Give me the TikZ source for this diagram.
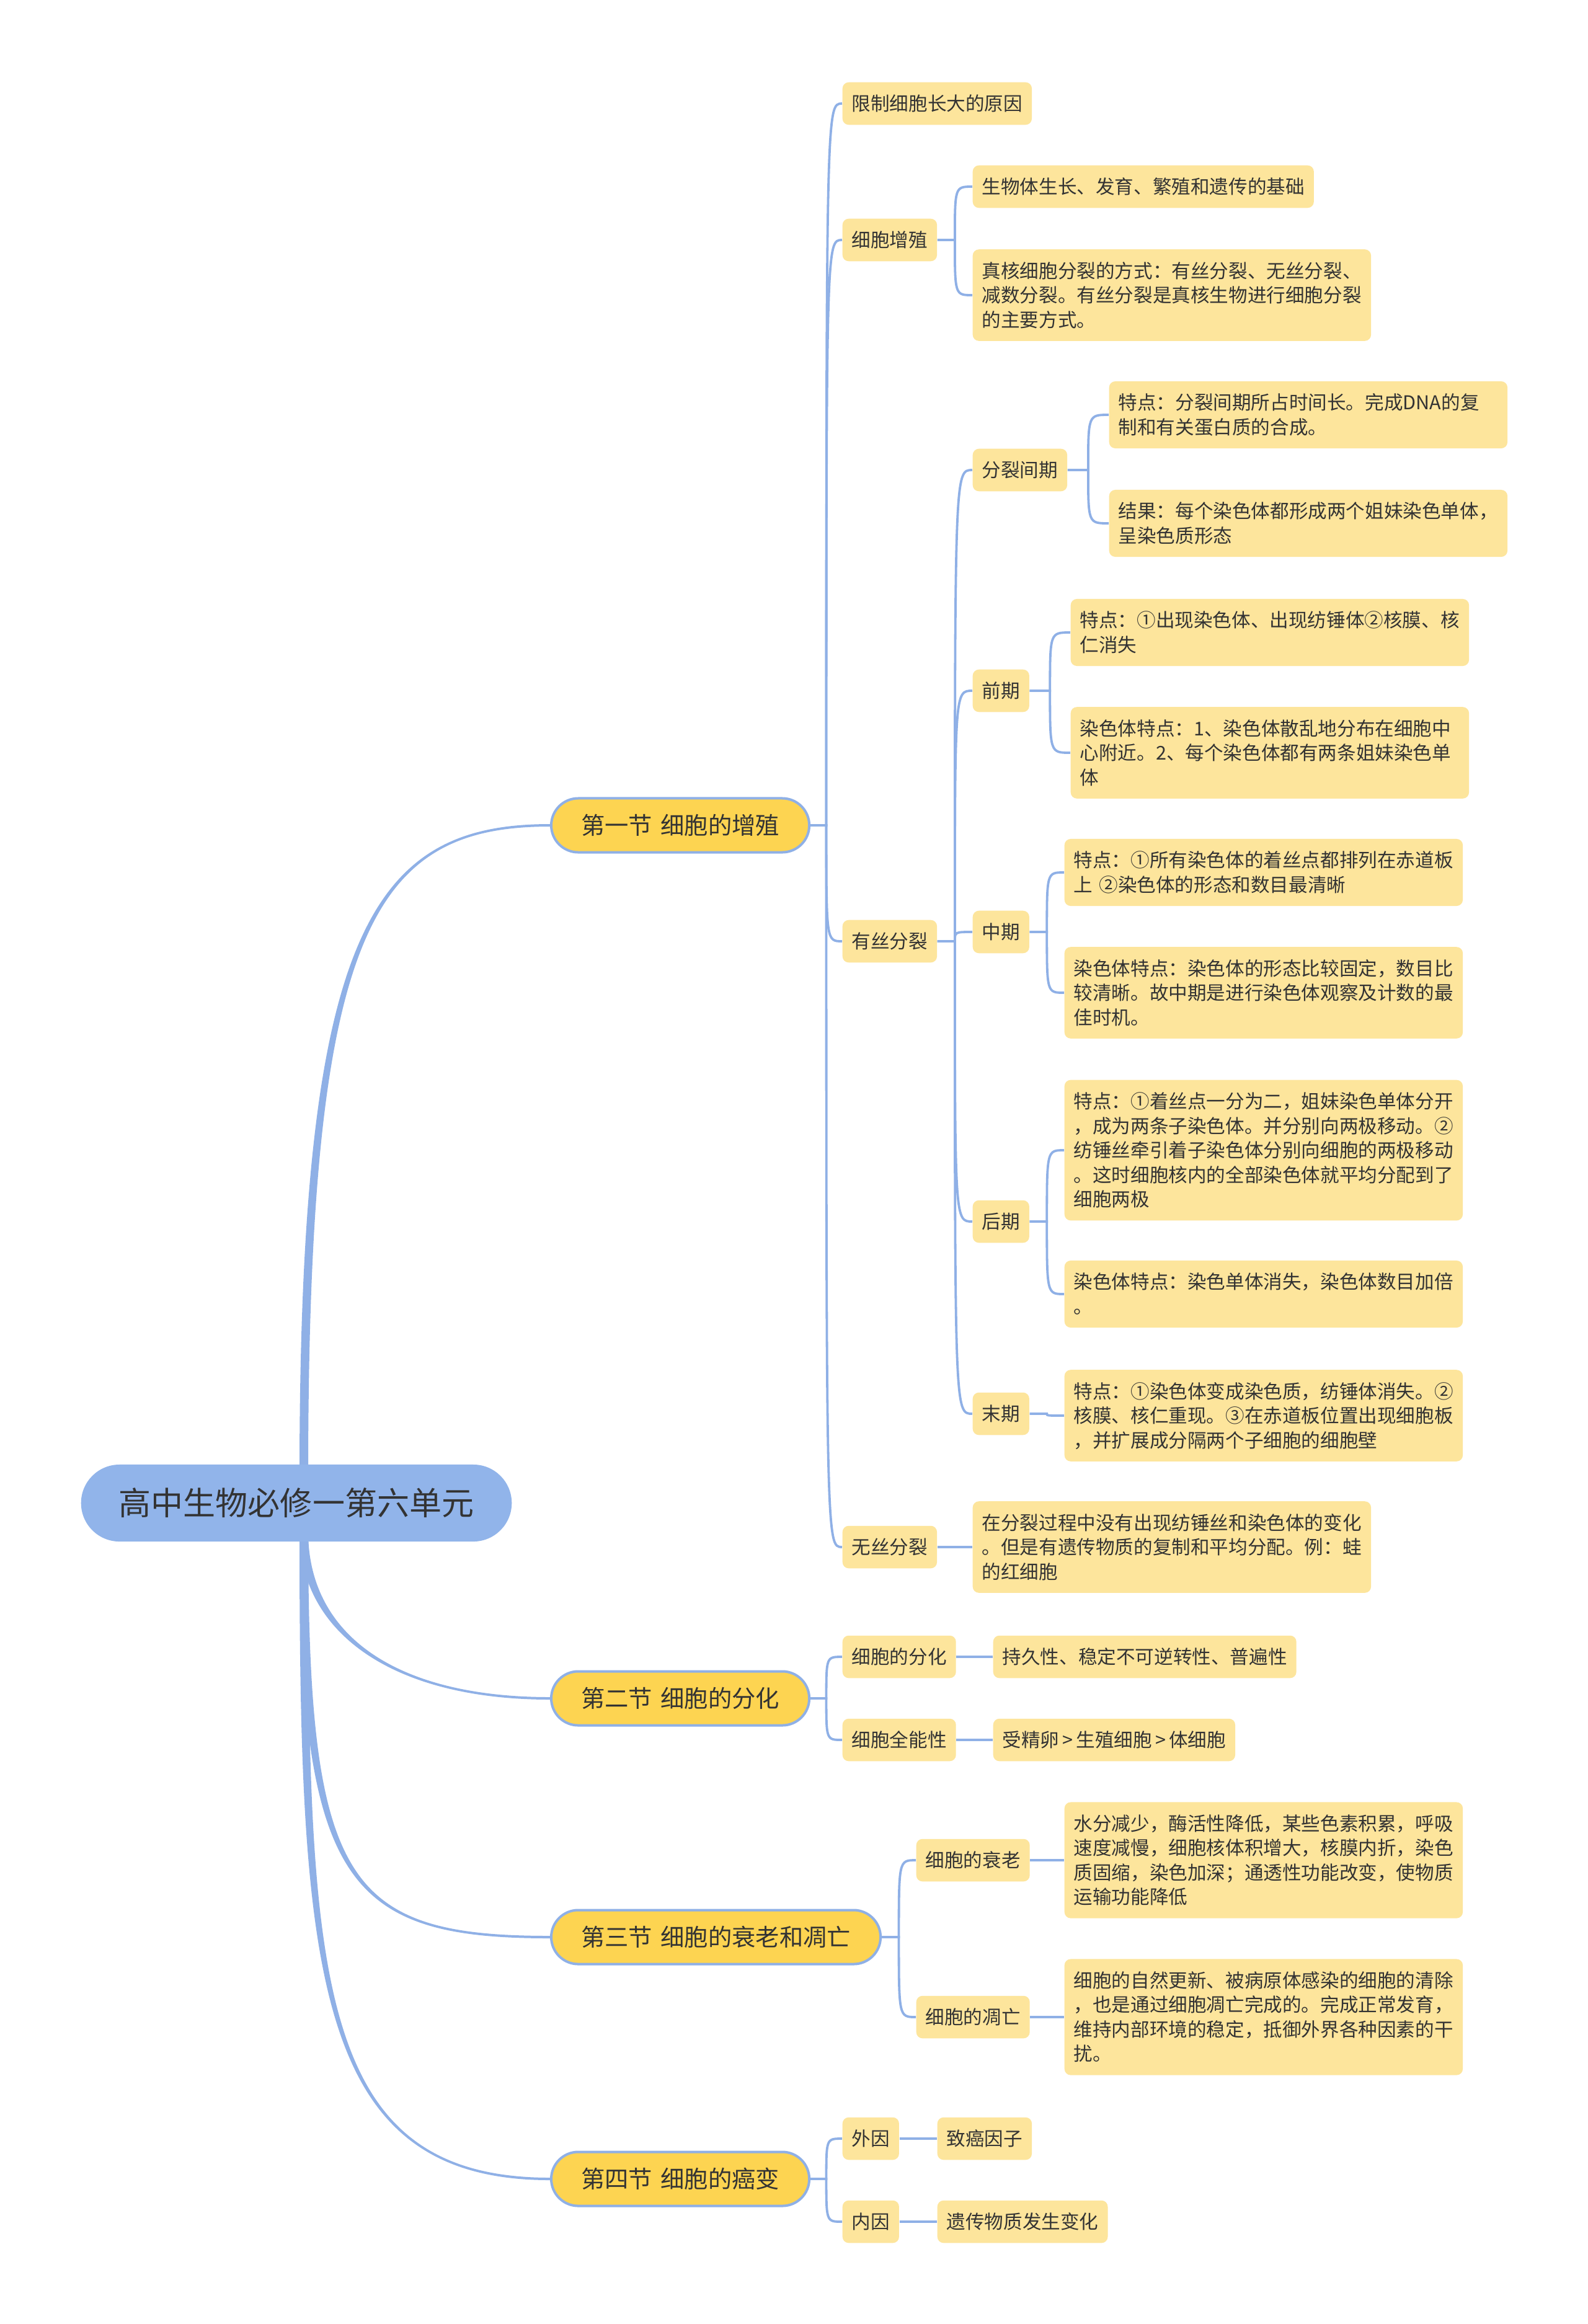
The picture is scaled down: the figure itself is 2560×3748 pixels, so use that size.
\documentclass[tikz,border=0pt]{standalone}
\usepackage{fontspec}
\setmainfont{Noto Sans CJK SC}
\usetikzlibrary{calc}

\definecolor{lineblue}{HTML}{8FB0E6}
\definecolor{rootblue}{HTML}{91B4EA}
\definecolor{secyellow}{HTML}{FDD451}
\definecolor{leafyellow}{HTML}{FDE59C}
\definecolor{inkgray}{HTML}{333333}

\pgfdeclarelayer{background}
\pgfsetlayers{background,main}

% line strut, centred on the CJK glyphs
\newcommand{\lstrut}{\rule[-2.32pt]{0pt}{11.24pt}}

% elbow link: parent east -> half way -> bend into child west
\newcommand{\link}[2]{%
  \draw[conn] let \p1=(#1.east), \p2=(#2.west) in
    (\p1) -- ({(\x1+\x2)/2},\y1) .. controls ({(\x1+\x2)/2},\y2) .. (\p2);}

% tapered trunk from the root to a section
\newcommand{\trunk}[5]{%
  \fill[lineblue] ($(#1)+(-7,0)$) .. controls ($(#1)+(-7,#3)$) and ($(#2.west)+(#4,{-2*#5})$) .. ($(#2.west)+(0,{-2*#5})$)
    -- ($(#2.west)+(0,{2*#5})$) .. controls ($(#2.west)+(#4,{2*#5})$) and ($(#1)+(7,#3)$) .. ($(#1)+(7,0)$) -- cycle;}

\begin{document}
\begin{tikzpicture}[x=0.01cm, y=-0.01cm,
    rootbox/.style={fill=rootblue, text=inkgray, rounded corners=0.62cm, minimum height=1.24cm,
      inner xsep=0.61cm, font=\fontsize{14.8}{18}\selectfont},
    secbox/.style={fill=secyellow, draw=lineblue, line width=0.04cm, text=inkgray, rounded corners=0.435cm,
      minimum height=0.87cm, inner xsep=0.48cm, anchor=west, font=\fontsize{10.9}{13}\selectfont},
    item/.style={fill=leafyellow, text=inkgray, rounded corners=0.1cm, inner xsep=0.15cm, inner ysep=0.145cm,
      anchor=west, font=\fontsize{8.7}{11.24}\selectfont,
      execute at begin node=\lstrut, execute at end node=\lstrut},
    leaf/.style={item, text width=6.12cm, align=left},
    conn/.style={lineblue, line width=0.038cm}]

  \useasboundingbox (0,0) rectangle (2560,3748);

  % Root and sections
  \node[rootbox] (root) at (478,2424) {高中生物必修一第六单元};
  \coordinate (rtop) at (490,2380);
  \coordinate (rbot) at (490,2470);

  \node[secbox] (s1) at (887,1331) {第一节\hspace{0.35em}细胞的增殖};
  \node[secbox] (s2) at (887,2739) {第二节\hspace{0.35em}细胞的分化};
  \node[secbox] (s3) at (887,3124) {第三节\hspace{0.35em}细胞的衰老和凋亡};
  \node[secbox] (s4) at (887,3514) {第四节\hspace{0.35em}细胞的癌变};

  % Section 1
  \node[item] (a1) at (1358,167) {限制细胞长大的原因};
  \node[item] (a2) at (1358,387) {细胞增殖};
  \node[item] (a3) at (1358,1518) {有丝分裂};
  \node[item] (a4) at (1358,2495) {无丝分裂};

  \node[item] (b1) at (1568,301) {生物体生长、发育、繁殖和遗传的基础};
  \node[leaf] (b2) at (1568,476) {真核细胞分裂的方式：有丝分裂、无丝分裂、\\减数分裂。有丝分裂是真核生物进行细胞分裂\\的主要方式。};

  \node[item] (p1) at (1568,758) {分裂间期};
  \node[item] (p2) at (1568,1114) {前期};
  \node[item] (p3) at (1568,1503) {中期};
  \node[item] (p4) at (1568,1970) {后期};
  \node[item] (p5) at (1568,2280) {末期};

  \node[leaf] (l11) at (1788,669) {特点：分裂间期所占时间长。完成DNA的复\\制和有关蛋白质的合成。};
  \node[leaf] (l12) at (1788,844) {结果：每个染色体都形成两个姐妹染色单体，\\呈染色质形态};
  \node[leaf] (l21) at (1726,1020) {特点：①出现染色体、出现纺锤体②核膜、核\\仁消失};
  \node[leaf] (l22) at (1726,1214) {染色体特点：1、染色体散乱地分布在细胞中\\心附近。2、每个染色体都有两条姐妹染色单\\体};
  \node[leaf] (l31) at (1716,1407) {特点：①所有染色体的着丝点都排列在赤道板\\上 ②染色体的形态和数目最清晰};
  \node[leaf] (l32) at (1716,1601) {染色体特点：染色体的形态比较固定，数目比\\较清晰。故中期是进行染色体观察及计数的最\\佳时机。};
  \node[leaf] (l41) at (1716,1855) {特点：①着丝点一分为二，姐妹染色单体分开\\，成为两条子染色体。并分别向两极移动。②\\纺锤丝牵引着子染色体分别向细胞的两极移动\\。这时细胞核内的全部染色体就平均分配到了\\细胞两极};
  \node[leaf] (l42) at (1716,2087) {染色体特点：染色单体消失，染色体数目加倍\\。};
  \node[leaf] (l51) at (1716,2283) {特点：①染色体变成染色质，纺锤体消失。②\\核膜、核仁重现。③在赤道板位置出现细胞板\\，并扩展成分隔两个子细胞的细胞壁};

  \node[leaf] (c1) at (1568,2495) {在分裂过程中没有出现纺锤丝和染色体的变化\\。但是有遗传物质的复制和平均分配。例：蛙\\的红细胞};

  % Section 2
  \node[item] (d1) at (1358,2672) {细胞的分化};
  \node[item] (d2) at (1358,2806) {细胞全能性};
  \node[item] (e1) at (1601,2672) {持久性、稳定不可逆转性、普遍性};
  \node[item] (e2) at (1601,2806) {受精卵\,>\,生殖细胞\,>\,体细胞};

  % Section 3
  \node[item] (f1) at (1477,3000) {细胞的衰老};
  \node[item] (f2) at (1477,3253) {细胞的凋亡};
  \node[leaf] (g1) at (1716,3000) {水分减少，酶活性降低，某些色素积累，呼吸\\速度减慢，细胞核体积增大，核膜内折，染色\\质固缩，染色加深；通透性功能改变，使物质\\运输功能降低};
  \node[leaf] (g2) at (1716,3253) {细胞的自然更新、被病原体感染的细胞的清除\\，也是通过细胞凋亡完成的。完成正常发育，\\维持内部环境的稳定，抵御外界各种因素的干\\扰。};

  % Section 4
  \node[item] (h1) at (1358,3449) {外因};
  \node[item] (h2) at (1358,3583) {内因};
  \node[item] (i1) at (1511,3449) {致癌因子};
  \node[item] (i2) at (1511,3583) {遗传物质发生变化};

  % Connectors
  \begin{pgfonlayer}{background}
    \fill[white] (0,0) rectangle (2560,3748);
    \trunk{rtop}{s1}{-880}{-287}{1}
    \trunk{rbot}{s2}{166}{-250}{-1}
    \trunk{rbot}{s3}{566}{-330}{-1}
    \trunk{rbot}{s4}{716}{-380}{-1}
    \foreach \c in {a1,a2,a3,a4} {\link{s1}{\c}}
    \foreach \c in {b1,b2} {\link{a2}{\c}}
    \foreach \c in {p1,p2,p3,p4,p5} {\link{a3}{\c}}
    \link{a4}{c1}
    \link{p1}{l11} \link{p1}{l12}
    \link{p2}{l21} \link{p2}{l22}
    \link{p3}{l31} \link{p3}{l32}
    \link{p4}{l41} \link{p4}{l42}
    \link{p5}{l51}
    \link{s2}{d1} \link{s2}{d2}
    \link{d1}{e1} \link{d2}{e2}
    \link{s3}{f1} \link{s3}{f2}
    \link{f1}{g1} \link{f2}{g2}
    \link{s4}{h1} \link{s4}{h2}
    \link{h1}{i1} \link{h2}{i2}
  \end{pgfonlayer}
\end{tikzpicture}
\end{document}
